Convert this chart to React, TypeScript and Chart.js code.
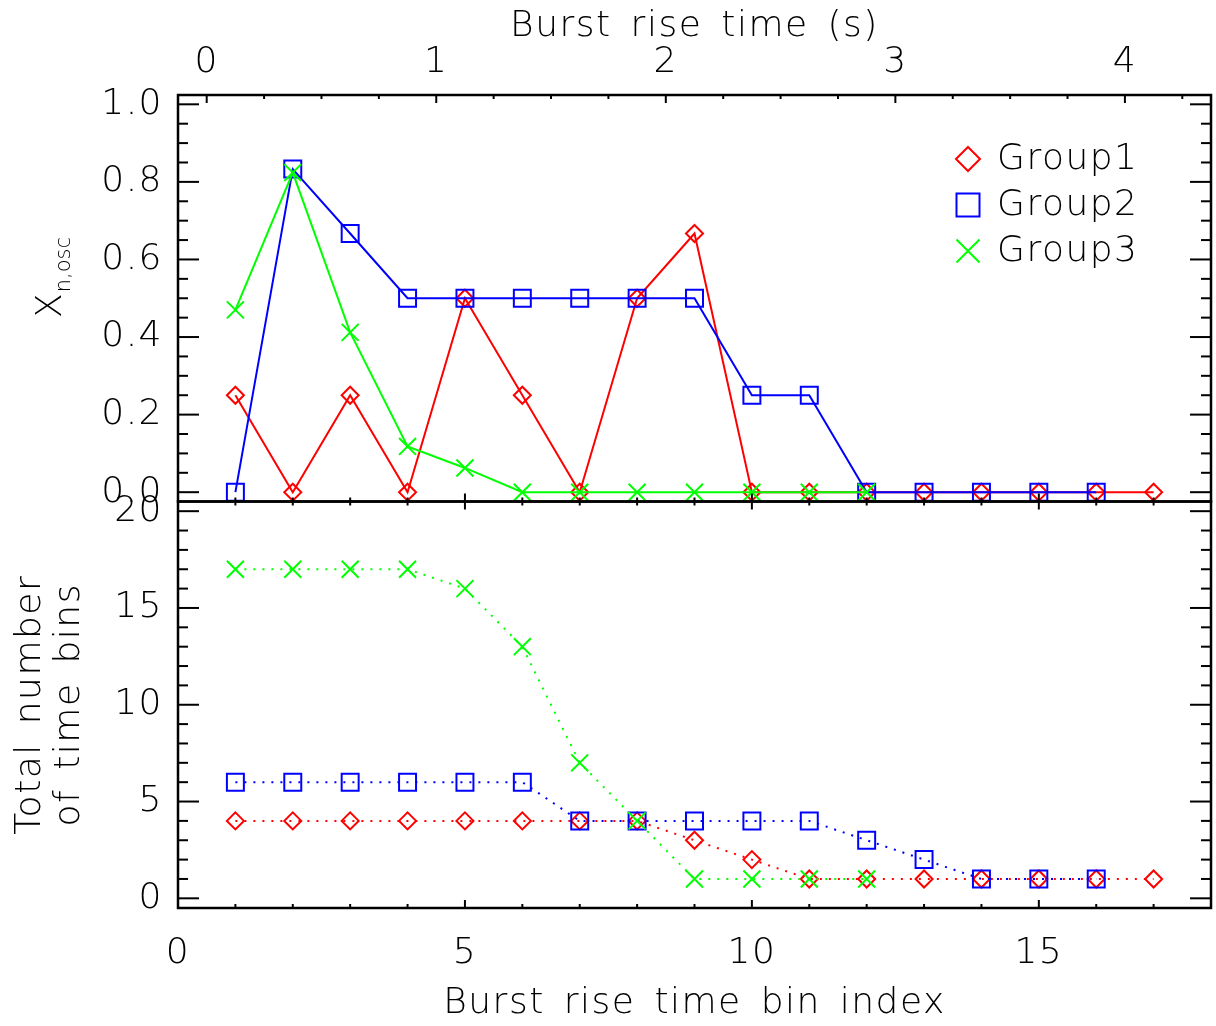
import React, { useEffect, useRef } from 'react';
import { Chart, registerables } from 'chart.js';

Chart.register(...registerables);

// ---- data ----
const BIN_INDEX_G1 = [1, 2, 3, 4, 5, 6, 7, 8, 9, 10, 11, 12, 13, 14, 15, 16, 17];
const BIN_INDEX_G2 = [1, 2, 3, 4, 5, 6, 7, 8, 9, 10, 11, 12, 13, 14, 15, 16];
const BIN_INDEX_G3 = [1, 2, 3, 4, 5, 6, 7, 8, 9, 10, 11, 12];

const X_OSC_G1 = [0.25, 0, 0.25, 0, 0.5, 0.25, 0, 0.5, 0.667, 0, 0, 0, 0, 0, 0, 0, 0];
const X_OSC_G2 = [0, 0.833, 0.667, 0.5, 0.5, 0.5, 0.5, 0.5, 0.5, 0.25, 0.25, 0, 0, 0, 0, 0];
const X_OSC_G3 = [0.47, 0.824, 0.412, 0.118, 0.0625, 0, 0, 0, 0, 0, 0, 0];

const N_BINS_G1 = [4, 4, 4, 4, 4, 4, 4, 4, 3, 2, 1, 1, 1, 1, 1, 1, 1];
const N_BINS_G2 = [6, 6, 6, 6, 6, 6, 4, 4, 4, 4, 4, 3, 2, 1, 1, 1];
const N_BINS_G3 = [17, 17, 17, 17, 16, 13, 7, 4, 1, 1, 1, 1];

const GROUP_NAMES = ['Group1', 'Group2', 'Group3'];
const GROUP_COLORS = ['#ff0000', '#0000ff', '#00ff00'];

// ---- tick labels ----
const INDEX_TICKS = [0, 5, 10, 15];
const TIME_TICKS = [0, 1, 2, 3, 4];
const XOSC_TICKS = [0, 0.2, 0.4, 0.6, 0.8, 1.0];
const NBINS_TICKS = [0, 5, 10, 15, 20];

// ---- styling ----
const FAMILY = 'DejaVu Sans';
const WEIGHT = '200';
const FSIZE = 36;
const LETTER_SPACING = '1.5px';
const WORD_SPACING = '6px';
const POINT_STYLES = ['rectRot', 'rect', 'crossRot'];
const POINT_RADII = [8.5, 12, 12];

const font = (size: number, lineHeight = 1.2) => ({ family: FAMILY, size, weight: WEIGHT as any, lineHeight });
const cssFont = (size: number) => `${WEIGHT} ${size}px "${FAMILY}"`;

function drawSymbol(ctx: CanvasRenderingContext2D, kind: number, cx: number, cy: number, h: number) {
  ctx.beginPath();
  if (kind === 0) {
    ctx.moveTo(cx - h, cy);
    ctx.lineTo(cx, cy - h);
    ctx.lineTo(cx + h, cy);
    ctx.lineTo(cx, cy + h);
    ctx.closePath();
  } else if (kind === 1) {
    ctx.rect(cx - h, cy - h, 2 * h, 2 * h);
  } else {
    ctx.moveTo(cx - h, cy - h);
    ctx.lineTo(cx + h, cy + h);
    ctx.moveTo(cx + h, cy - h);
    ctx.lineTo(cx - h, cy + h);
  }
  ctx.stroke();
}

const idlFramePlugin = {
  id: 'idlFrame',
  beforeDraw(chart: any) {
    const ctx = chart.ctx;
    ctx.save();
    ctx.fillStyle = '#ffffff';
    ctx.fillRect(0, 0, chart.width, chart.height);
    ctx.restore();
    ctx.letterSpacing = LETTER_SPACING;
    ctx.wordSpacing = WORD_SPACING;
  },
  afterDraw(chart: any) {
    const ctx: CanvasRenderingContext2D = chart.ctx;
    const xs = chart.scales.x;
    const xt = chart.scales.xTop;
    const yt = chart.scales.yTop;
    const yb = chart.scales.yBot;
    const L = xs.left;
    const R = xs.right;
    ctx.save();
    ctx.strokeStyle = '#000';
    ctx.fillStyle = '#000';
    ctx.lineCap = 'butt';
    const seg = (x0: number, y0: number, x1: number, y1: number, w: number) => {
      ctx.lineWidth = w;
      ctx.beginPath();
      ctx.moveTo(x0, y0);
      ctx.lineTo(x1, y1);
      ctx.stroke();
    };
    const each = (min: number, max: number, step: number, major: number, fn: (v: number, m: boolean) => void) => {
      const k0 = Math.ceil(min / step - 1e-9);
      const k1 = Math.floor(max / step + 1e-9);
      for (let k = k0; k <= k1; k++) {
        const v = k * step;
        const m = Math.abs(v / major - Math.round(v / major)) < 1e-6;
        fn(v, m);
      }
    };
    // y ticks, both sides, inward
    const yPanels: [any, number, number][] = [[yt, 0.05, 0.2], [yb, 1, 5]];
    for (const [ys, minor, major] of yPanels) {
      each(ys.min, ys.max, minor, major, (v, m) => {
        const py = ys.getPixelForValue(v);
        const len = m ? 21 : 10;
        seg(L, py, L + len, py, 2);
        seg(R, py, R - len, py, 2);
      });
    }
    // x ticks on every horizontal edge, inward
    const xTicks = (scale: any, minor: number, major: number, yEdge: number, dir: number) =>
      each(scale.min, scale.max, minor, major, (v, m) => {
        const px = scale.getPixelForValue(v);
        seg(px, yEdge, px, yEdge + dir * (m ? 8 : 4), 2);
      });
    xTicks(xt, 0.25, 1, yt.top, 1);
    xTicks(xs, 1, 5, yt.bottom, -1);
    xTicks(xs, 1, 5, yb.top, 1);
    xTicks(xs, 1, 5, yb.bottom, -1);
    // frames
    ctx.lineWidth = 2.5;
    ctx.strokeRect(L, yt.top, R - L, yt.bottom - yt.top);
    ctx.strokeRect(L, yb.top, R - L, yb.bottom - yb.top);

    // top-panel y title: X_{n,osc}
    ctx.letterSpacing = '0px';
    ctx.wordSpacing = '0px';
    ctx.save();
    ctx.translate(52, 318);
    ctx.rotate(-Math.PI / 2);
    ctx.textAlign = 'left';
    ctx.textBaseline = 'middle';
    ctx.font = cssFont(FSIZE);
    ctx.fillText('X', 0, 0);
    const wX = ctx.measureText('X').width;
    ctx.font = cssFont(21);
    ctx.fillText('n,osc', wX + 1, 13);
    ctx.restore();

    // legend
    ctx.letterSpacing = LETTER_SPACING;
    ctx.font = cssFont(FSIZE);
    ctx.textAlign = 'left';
    ctx.textBaseline = 'middle';
    for (let i = 0; i < GROUP_NAMES.length; i++) {
      const cy = 159 + i * 46;
      ctx.strokeStyle = GROUP_COLORS[i];
      ctx.lineWidth = 2;
      drawSymbol(ctx, i, 968, cy, i === 0 ? 12 : 11.5);
      ctx.fillStyle = '#000';
      ctx.fillText(GROUP_NAMES[i], 997, cy + 1);
    }
    ctx.restore();
  },
};

export default function App() {
  const ref = useRef<HTMLCanvasElement>(null);
  useEffect(() => {
    document.body.style.margin = '0';
    document.body.style.overflow = 'hidden';
    const canvas = ref.current!;
    const idx = [BIN_INDEX_G1, BIN_INDEX_G2, BIN_INDEX_G3];
    const frac = [X_OSC_G1, X_OSC_G2, X_OSC_G3];
    const nb = [N_BINS_G1, N_BINS_G2, N_BINS_G3];
    const mk = (i: number, values: number[], axis: string, dash: number[]) => ({
      label: GROUP_NAMES[i],
      data: idx[i].map((x, j) => ({ x, y: values[j] })),
      xAxisID: 'x',
      yAxisID: axis,
      borderColor: GROUP_COLORS[i],
      backgroundColor: 'rgba(0,0,0,0)',
      borderWidth: 2,
      borderDash: dash,
      borderCapStyle: 'butt',
      pointStyle: POINT_STYLES[i],
      pointRadius: POINT_RADII[i],
      pointHoverRadius: POINT_RADII[i],
      pointBorderColor: GROUP_COLORS[i],
      pointBackgroundColor: 'rgba(0,0,0,0)',
      pointBorderWidth: 2,
      tension: 0,
      fill: false,
      order: 3 - i,
    });
    const datasets = [
      mk(0, frac[0], 'yTop', []),
      mk(1, frac[1], 'yTop', []),
      mk(2, frac[2], 'yTop', []),
      mk(0, nb[0], 'yBot', [2, 7]),
      mk(1, nb[1], 'yBot', [2, 7]),
      mk(2, nb[2], 'yBot', [2, 7]),
    ];
    const tickFont = font(FSIZE);
    const noGrid = { display: false, drawTicks: false };
    const chart = new Chart(canvas, {
      type: 'line',
      data: { datasets } as any,
      plugins: [idlFramePlugin],
      options: {
        responsive: false,
        animation: false,
        devicePixelRatio: 1,
        events: [],
        layout: { autoPadding: false, padding: { left: 0, right: 5, top: 0, bottom: 0 } },
        plugins: { legend: { display: false }, tooltip: { enabled: false }, title: { display: false } },
        scales: {
          x: {
            type: 'linear',
            position: 'bottom',
            min: 0,
            max: 18,
            afterBuildTicks: (s: any) => { s.ticks = INDEX_TICKS.map((v) => ({ value: v })); },
            afterFit: (s: any) => { s.height = 118; },
            ticks: { font: tickFont, color: '#000', padding: 24, maxRotation: 0, autoSkip: false, callback: (v: any) => String(v) },
            grid: noGrid,
            border: { display: false },
            title: { display: true, text: 'Burst rise time bin index', font: tickFont, color: '#000', padding: { top: 0, bottom: 1 } },
          },
          xTop: {
            type: 'linear',
            position: 'top',
            min: -0.125,
            max: 4.375,
            afterBuildTicks: (s: any) => { s.ticks = TIME_TICKS.map((v) => ({ value: v })); },
            afterFit: (s: any) => { s.height = 95; },
            ticks: { font: tickFont, color: '#000', padding: 11, maxRotation: 0, autoSkip: false, callback: (v: any) => String(v) },
            grid: noGrid,
            border: { display: false },
            title: { display: true, text: 'Burst rise time (s)', font: tickFont, color: '#000', padding: { top: 5, bottom: 0 } },
          },
          yBot: {
            type: 'linear',
            position: 'left',
            stack: 'panels',
            stackWeight: 1,
            min: -0.5,
            max: 20.5,
            afterBuildTicks: (s: any) => { s.ticks = NBINS_TICKS.map((v) => ({ value: v })); },
            afterFit: (s: any) => { s.width = 178; },
            ticks: { font: tickFont, color: '#000', padding: 15, autoSkip: false, callback: (v: any) => String(v) },
            grid: noGrid,
            border: { display: false },
            title: { display: true, text: ['Total number', 'of time bins'], font: font(FSIZE, 1.06), color: '#000', padding: { top: 12, bottom: 0 } },
          },
          yTop: {
            type: 'linear',
            position: 'left',
            stack: 'panels',
            stackWeight: 1,
            min: -0.024,
            max: 1.024,
            afterBuildTicks: (s: any) => { s.ticks = XOSC_TICKS.map((v) => ({ value: v })); },
            afterFit: (s: any) => { s.width = 178; },
            ticks: { font: tickFont, color: '#000', padding: 15, autoSkip: false, callback: (v: any) => Number(v).toFixed(1) },
            grid: noGrid,
            border: { display: false },
            title: { display: false },
          },
        },
      } as any,
    });
    return () => chart.destroy();
  }, []);
  return (
    <div style={{ width: 1216, height: 1026, background: '#fff' }}>
      <canvas ref={ref} width={1216} height={1026} style={{ display: 'block' }} />
    </div>
  );
}
